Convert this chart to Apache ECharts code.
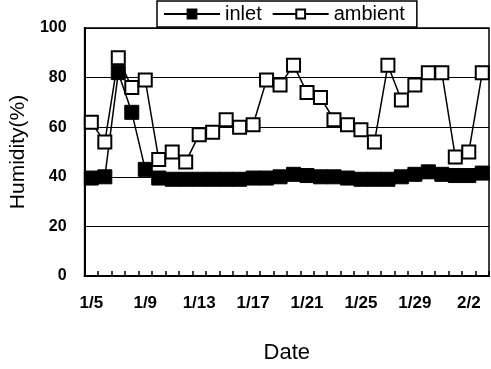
<!DOCTYPE html>
<html>
<head>
<meta charset="utf-8">
<script src="https://cdn.jsdelivr.net/npm/echarts@6/dist/echarts.min.js"></script>
<style>
  html, body { margin: 0; padding: 0; background: #fff; }
  #chart { width: 491px; height: 369px; }
</style>
</head>
<body>
<div id="chart"></div>
<script>
var dates = ['1/5','1/6','1/7','1/8','1/9','1/10','1/11','1/12','1/13','1/14',
             '1/15','1/16','1/17','1/18','1/19','1/20','1/21','1/22','1/23','1/24',
             '1/25','1/26','1/27','1/28','1/29','1/30','1/31','2/1','2/2','2/3'];
var inlet = [39.5, 40, 82, 66, 43, 39.5, 39, 39, 39, 39,
             39, 39, 39.5, 39.5, 40, 41, 40.5, 40, 40, 39.5,
             39, 39, 39, 40, 41, 42, 41, 40.5, 40.5, 41.5];
var ambient = [62, 54, 88, 76, 79, 47, 50, 46, 57, 58,
               63, 60, 61, 79, 77, 85, 74, 72, 63, 61,
               59, 54, 85, 71, 77, 82, 82, 48, 50, 82];
var yTicks = [0, 20, 40, 60, 80, 100];

var chart = echarts.init(document.getElementById('chart'));

var font = '"Liberation Sans", Arial, sans-serif';

var option = {
    animation: false,
    backgroundColor: '#fff',
    grid: {
        left: 80, right: 2, top: 28, bottom: 90,
        show: true,
        borderColor: '#000',
        borderWidth: 1.5
    },
    legend: {
        left: 157,
        top: 1,
        z: 10,
        backgroundColor: '#fff',
        borderColor: '#000',
        borderWidth: 1.5,
        padding: [3, 12, 3, 6],
        itemWidth: 56,
        itemHeight: 11,
        itemGap: 10,
        textStyle: { fontFamily: font, fontSize: 20, color: '#000' },
        data: ['inlet', 'ambient']
    },
    xAxis: {
        type: 'category',
        data: dates,
        boundaryGap: true,
        name: 'Date',
        nameLocation: 'middle',
        nameGap: 66,
        nameTextStyle: { fontFamily: font, fontSize: 22, color: '#000' },
        axisLine: { lineStyle: { color: '#000', width: 2 } },
        axisTick: { show: true, inside: true, length: 5, interval: 0, lineStyle: { color: '#000', width: 1.5 } },
        axisLabel: { interval: 3, margin: 19, fontFamily: font, fontSize: 17, fontWeight: 'bold', color: '#000' },
        splitLine: { show: false }
    },
    yAxis: {
        type: 'value',
        min: yTicks[0],
        max: yTicks[yTicks.length - 1],
        interval: 20,
        name: 'Humidity(%)',
        nameLocation: 'middle',
        nameGap: 47,
        nameTextStyle: { fontFamily: font, fontSize: 21, color: '#000' },
        axisLine: { show: true, lineStyle: { color: '#000', width: 2 } },
        axisTick: { show: false },
        axisLabel: { margin: 18, fontFamily: font, fontSize: 16, fontWeight: 'bold', color: '#000' },
        splitLine: { show: true, lineStyle: { color: '#000', width: 1 } }
    },
    series: [
        {
            name: 'inlet',
            type: 'line',
            data: inlet,
            symbol: 'rect',
            symbolSize: 14,
            showAllSymbol: true,
            z: 3,
            lineStyle: { color: '#000', width: 1.5 },
            itemStyle: { color: '#000', borderColor: '#000', borderWidth: 1 }
        },
        {
            name: 'ambient',
            type: 'line',
            data: ambient,
            symbol: 'rect',
            symbolSize: 13,
            showAllSymbol: true,
            z: 4,
            lineStyle: { color: '#000', width: 1.5 },
            itemStyle: { color: '#fff', borderColor: '#000', borderWidth: 2 }
        }
    ]
};

chart.setOption(option);
</script>
</body>
</html>
